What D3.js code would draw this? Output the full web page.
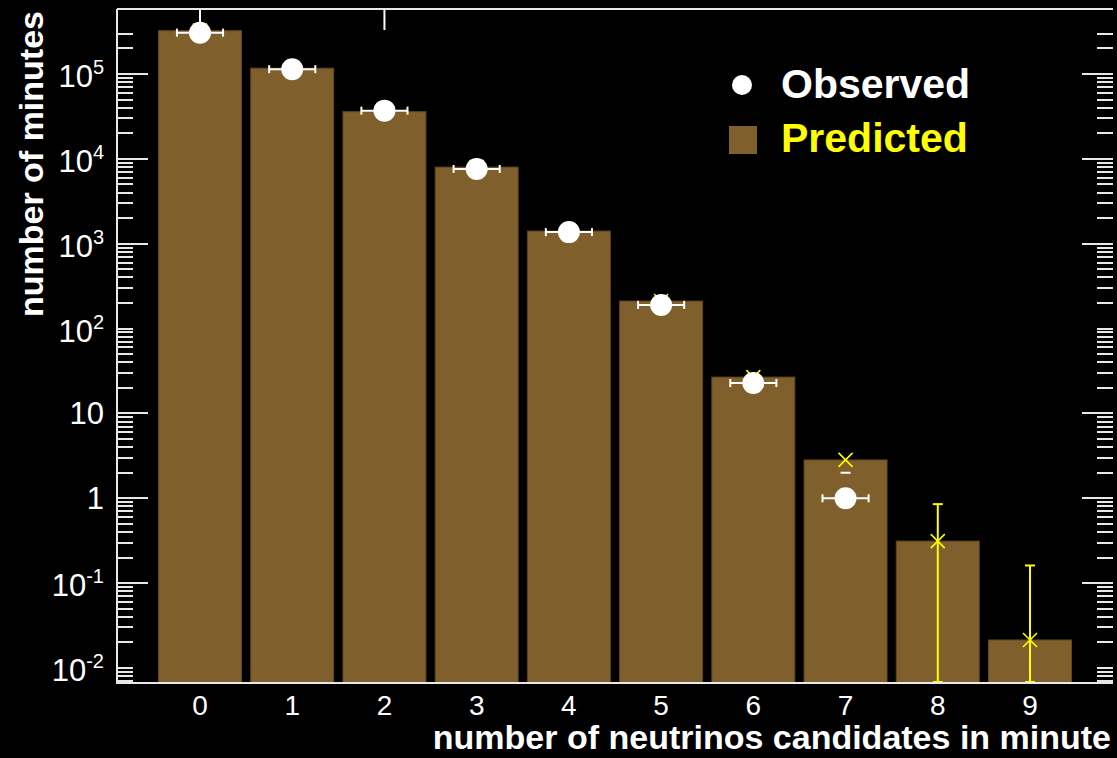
<!DOCTYPE html>
<html>
<head>
<meta charset="utf-8">
<script src="https://cdn.jsdelivr.net/npm/d3@7"></script>
<style>
  html, body { margin: 0; padding: 0; background: #000; }
  svg { display: block; }
  text { font-family: "Liberation Sans", Arial, Helvetica, sans-serif; }
</style>
</head>
<body>
<script>
// ---------------- data ----------------
const categories = [0, 1, 2, 3, 4, 5, 6, 7, 8, 9];
const predicted = [3.24e5, 1.17e5, 3.6e4, 8.0e3, 1.41e3, 211, 26.8, 2.83, 0.313, 0.0214];
const predictedErrUp = [0, 0, 0, 0, 0, 0, 0, 0.05, 0.54, 0.14];
const predictedErrDown = [0, 0, 0, 0, 0, 0, 0, 0.05, 0.313, 0.0214];
const observedBins = [0, 1, 2, 3, 4, 5, 6, 7];
const observed = [3.07e5, 1.14e5, 3.7e4, 7.6e3, 1.37e3, 190, 22.8, 1];
const observedErrUp = [554, 338, 192, 87, 37, 14, 4.8, 1];
// error segments running off the top of the frame
const overflowBins = [0, 2];
const overflowLow = [3.3e5, 3.3e5];
const yTickValues = [1e5, 1e4, 1e3, 1e2, 10, 1, 0.1, 0.01];
const yTickBase = ["10", "10", "10", "10", "10", "1", "10", "10"];
const yTickExp = ["5", "4", "3", "2", "", "", "-1", "-2"];
const yLongTicks = [1e5, 1e4, 1e3, 10, 1, 0.1];
const xTickLabels = ["0", "1", "2", "3", "4", "5", "6", "7", "8", "9"];
const xTitle = "number of neutrinos candidates in minute";
const yTitle = "number of minutes";
const legendLabels = ["Observed", "Predicted"];

// ---------------- layout ----------------
const W = 1117, H = 758;
const pL = 117, pR = 1113, pT = 9, pB = 683;
const barColor = "#7f5f2b";
const yellow = "#ffff00";

const svg = d3.select("body").append("svg").attr("width", W).attr("height", H)
  .style("background", "#000");

const x = d3.scaleLinear().domain([-0.9, 9.9]).range([pL, pR]);
const y = d3.scaleLog().domain([Math.pow(10, -2.177), Math.pow(10, 5.766)]).range([pB, pT]);
const yc = v => v <= y.domain()[0] ? pB : Math.max(pT, y(v));

const plot = svg.append("g");

// bars
plot.selectAll("rect.bar").data(categories).join("rect")
  .attr("class", "bar")
  .attr("x", d => x(d - 0.45))
  .attr("width", d => x(d + 0.45) - x(d - 0.45))
  .attr("y", (d, i) => y(predicted[i]))
  .attr("height", (d, i) => pB - y(predicted[i]))
  .attr("fill", barColor)
  .attr("stroke", "#5e461f").attr("stroke-width", 1);

// overflow segments
overflowBins.forEach((b, i) => {
  plot.append("line").attr("x1", x(b)).attr("x2", x(b))
    .attr("y1", pT).attr("y2", y(overflowLow[i]))
    .attr("stroke", "#fff").attr("stroke-width", 2);
});

// predicted error bars
categories.forEach((c, i) => {
  if (!predictedErrUp[i] && !predictedErrDown[i]) return;
  const hi = predicted[i] + predictedErrUp[i];
  const lo = predicted[i] - predictedErrDown[i];
  const y1 = yc(hi), y2 = yc(lo);
  if (y2 - y1 < 14) return;
  const g = plot.append("g").attr("stroke", yellow).attr("stroke-width", 2);
  g.append("line").attr("x1", x(c)).attr("x2", x(c)).attr("y1", y1).attr("y2", y2);
  g.append("line").attr("x1", x(c) - 5).attr("x2", x(c) + 5).attr("y1", y1).attr("y2", y1);
  g.append("line").attr("x1", x(c) - 5).attr("x2", x(c) + 5).attr("y1", y2 - 1).attr("y2", y2 - 1);
});

// predicted markers (X)
categories.forEach((c, i) => {
  const cx = x(c), cy = y(predicted[i]), s = 7;
  const g = plot.append("g").attr("stroke", yellow).attr("stroke-width", 1.6);
  g.append("line").attr("x1", cx - s).attr("y1", cy - s).attr("x2", cx + s).attr("y2", cy + s);
  g.append("line").attr("x1", cx - s).attr("y1", cy + s).attr("x2", cx + s).attr("y2", cy - s);
});

// observed: horizontal error bars, upper caps, markers
observedBins.forEach((b, i) => {
  const cx = x(b), cy = y(observed[i]);
  const g = plot.append("g").attr("stroke", "#fff").attr("stroke-width", 2);
  g.append("line").attr("x1", x(b - 0.25)).attr("x2", x(b + 0.25)).attr("y1", cy).attr("y2", cy);
  g.append("line").attr("x1", x(b - 0.25)).attr("x2", x(b - 0.25)).attr("y1", cy - 4).attr("y2", cy + 4);
  g.append("line").attr("x1", x(b + 0.25)).attr("x2", x(b + 0.25)).attr("y1", cy - 4).attr("y2", cy + 4);
  const yu = y(observed[i] + observedErrUp[i]);
  g.append("line").attr("x1", cx - 5).attr("x2", cx + 5).attr("y1", yu).attr("y2", yu);
  plot.append("circle").attr("cx", cx).attr("cy", cy).attr("r", 11).attr("fill", "#fff");
});

// ---------------- axes / frame ----------------
const axisG = svg.append("g").attr("stroke", "#e8e8e8").attr("stroke-width", 2);
axisG.append("line").attr("x1", pL).attr("x2", pL).attr("y1", pT).attr("y2", pB + 1);
axisG.append("line").attr("x1", pL).attr("x2", pR).attr("y1", pT).attr("y2", pT);
axisG.append("line").attr("x1", pL - 1).attr("x2", pR).attr("y1", pB).attr("y2", pB);

// minor + major y ticks (both sides)
const [dmin, dmax] = y.domain();
const tickVals = [];
for (let e = -3; e <= 5; e++) {
  for (let m = 1; m <= 9; m++) {
    const v = m * Math.pow(10, e);
    if (v >= dmin && v <= dmax && v <= 3.01e5) tickVals.push(v);
  }
}
tickVals.forEach(v => {
  const long = yLongTicks.some(t => Math.abs(t - v) / t < 1e-6);
  const len = long ? 31 : 16;
  const yy = Math.round(y(v));
  axisG.append("line").attr("x1", pL).attr("x2", pL + len).attr("y1", yy).attr("y2", yy);
  axisG.append("line").attr("x1", pR).attr("x2", pR - len).attr("y1", yy).attr("y2", yy);
});

// y tick labels
yTickValues.forEach((v, i) => {
  const yy = y(v);
  const hasExp = yTickExp[i] !== "";
  const t = svg.append("text").attr("fill", "#fff").attr("text-anchor", "end")
    .attr("x", 104).attr("y", yy + (hasExp ? 13 : 11)).attr("font-size", 31);
  t.append("tspan").text(yTickBase[i]);
  if (hasExp) {
    t.append("tspan").attr("dy", -13).attr("font-size", 20).text(yTickExp[i]);
  }
});

// x tick labels
svg.selectAll("text.xt").data(categories).join("text")
  .attr("class", "xt")
  .attr("x", d => x(d)).attr("y", 715)
  .attr("text-anchor", "middle").attr("fill", "#fff").attr("font-size", 28)
  .text((d, i) => xTickLabels[i]);

// axis titles
svg.append("text").attr("x", 1111).attr("y", 749).attr("text-anchor", "end")
  .attr("fill", "#fff").attr("font-size", 34).attr("font-weight", "bold").text(xTitle);
svg.append("text").attr("transform", "translate(43,11) rotate(-90)").attr("text-anchor", "end")
  .attr("fill", "#fff").attr("font-size", 34).attr("font-weight", "bold").text(yTitle);

// legend
const lg = svg.append("g");
lg.append("circle").attr("cx", 742).attr("cy", 85).attr("r", 10).attr("fill", "#fff");
lg.append("text").attr("x", 781).attr("y", 98).attr("fill", "#fff")
  .attr("font-size", 41).attr("font-weight", "bold").text(legendLabels[0]);
lg.append("rect").attr("x", 729).attr("y", 126).attr("width", 28).attr("height", 28).attr("fill", barColor);
lg.append("text").attr("x", 781).attr("y", 152).attr("fill", yellow)
  .attr("font-size", 41).attr("font-weight", "bold").text(legendLabels[1]);
</script>
</body>
</html>
